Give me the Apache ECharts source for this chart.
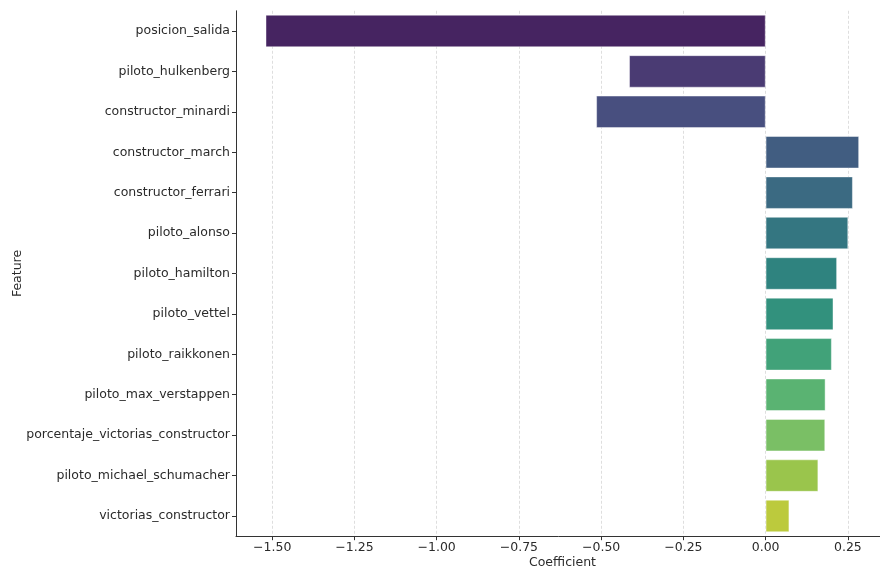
<!DOCTYPE html>
<html>
<head>
<meta charset="utf-8">
<script src="https://cdn.jsdelivr.net/npm/echarts@6/dist/echarts.min.js"></script>
<style>
  html, body { margin: 0; padding: 0; background: #fff; }
  #chart { width: 880px; height: 570px; }
</style>
</head>
<body>
<div id="chart"></div>
<script>
// Feature names, top to bottom
const features = [
  'posicion_salida',
  'piloto_hulkenberg',
  'constructor_minardi',
  'constructor_march',
  'constructor_ferrari',
  'piloto_alonso',
  'piloto_hamilton',
  'piloto_vettel',
  'piloto_raikkonen',
  'piloto_max_verstappen',
  'porcentaje_victorias_constructor',
  'piloto_michael_schumacher',
  'victorias_constructor'
];

// Regression coefficient of each feature
const coefficients = [
  -1.52, -0.415, -0.515, 0.284, 0.265, 0.251, 0.217,
  0.206, 0.201, 0.182, 0.181, 0.160, 0.072
];

// Tick positions on the coefficient axis
const xTicks = [-1.5, -1.25, -1.0, -0.75, -0.5, -0.25, 0.0, 0.25];

// Viridis anchor colours (t = 0, 0.1, ..., 1.0)
const viridisStops = [
  [68, 1, 84], [72, 36, 117], [65, 68, 135], [53, 95, 141], [42, 120, 142],
  [33, 145, 140], [34, 168, 132], [68, 191, 112], [122, 209, 81],
  [189, 223, 38], [253, 231, 37]
];

function viridis(t) {
  const p = t * 10;
  const i = Math.min(9, Math.floor(p));
  const f = p - i;
  const a = viridisStops[i], b = viridisStops[i + 1];
  return a.map((v, k) => v + (b[k] - v) * f);
}

// Reduce saturation in HLS space, keeping hue and lightness
function desaturate(rgb, prop) {
  const [r, g, b] = rgb.map(v => v / 255);
  const mx = Math.max(r, g, b), mn = Math.min(r, g, b);
  const l = (mx + mn) / 2;
  if (mx === mn) return rgb;
  const d = mx - mn;
  const s = l > 0.5 ? d / (2 - mx - mn) : d / (mx + mn);
  const s2 = s * prop;
  const c2 = l > 0.5 ? s2 * (2 - 2 * l) : s2 * 2 * l;
  const mn2 = l - c2 / 2;
  return [r, g, b].map(v => Math.round((mn2 + (v - mn) / d * c2) * 255));
}

const n = features.length;
const barColors = features.map((_, i) => {
  const c = desaturate(viridis((i + 1) / (n + 1)), 0.75);
  return 'rgb(' + c.join(',') + ')';
});

const fmt = v => (v < 0 ? '\u2212' : '') + Math.abs(v).toFixed(2);
const textColor = '#2b2b2b';
const font = 'DejaVu Sans';
const fs = 12.5;

const chart = echarts.init(document.getElementById('chart'), null, { renderer: 'canvas' });
chart.setOption({
  animation: false,
  backgroundColor: '#fff',
  // the plot runs a little past the right edge of the canvas
  grid: {
    left: 236, width: 653, top: 10.8, bottom: 33.8,
    containLabel: false, outerBoundsMode: 'none'
  },
  xAxis: {
    type: 'value',
    min: -1.61,
    max: 0.375,
    name: 'Coefficient',
    nameLocation: 'middle',
    nameGap: 20,
    nameMoveOverlap: false,
    nameTextStyle: { color: textColor, fontSize: fs, fontFamily: font },
    axisLine: { show: true, lineStyle: { color: '#333', width: 1 } },
    axisTick: { show: true, length: 4, lineStyle: { color: '#333' }, customValues: xTicks },
    axisLabel: {
      color: textColor, fontSize: fs, fontFamily: font, margin: 5,
      customValues: xTicks, formatter: fmt
    },
    splitLine: { show: true, lineStyle: { color: '#d6d6d6', width: 0.8, type: [3, 2] } }
  },
  yAxis: {
    type: 'category',
    data: features,
    inverse: true,
    name: 'Feature',
    nameLocation: 'middle',
    nameGap: 212,
    nameMoveOverlap: false,
    nameRotate: 90,
    nameTextStyle: { color: textColor, fontSize: fs, fontFamily: font },
    axisLine: { show: true, onZero: false, lineStyle: { color: '#333', width: 1 } },
    axisTick: { show: true, length: 4, alignWithLabel: true, lineStyle: { color: '#333' } },
    axisLabel: { color: textColor, fontSize: fs, fontFamily: font, margin: 6 },
    splitLine: { show: false }
  },
  series: [{
    type: 'bar',
    data: coefficients.map((v, i) => ({ value: v, itemStyle: { color: barColors[i] } })),
    barWidth: '80%',
    itemStyle: { borderColor: 'rgba(255,255,255,0.55)', borderWidth: 0.8 }
  }]
});
</script>
</body>
</html>
